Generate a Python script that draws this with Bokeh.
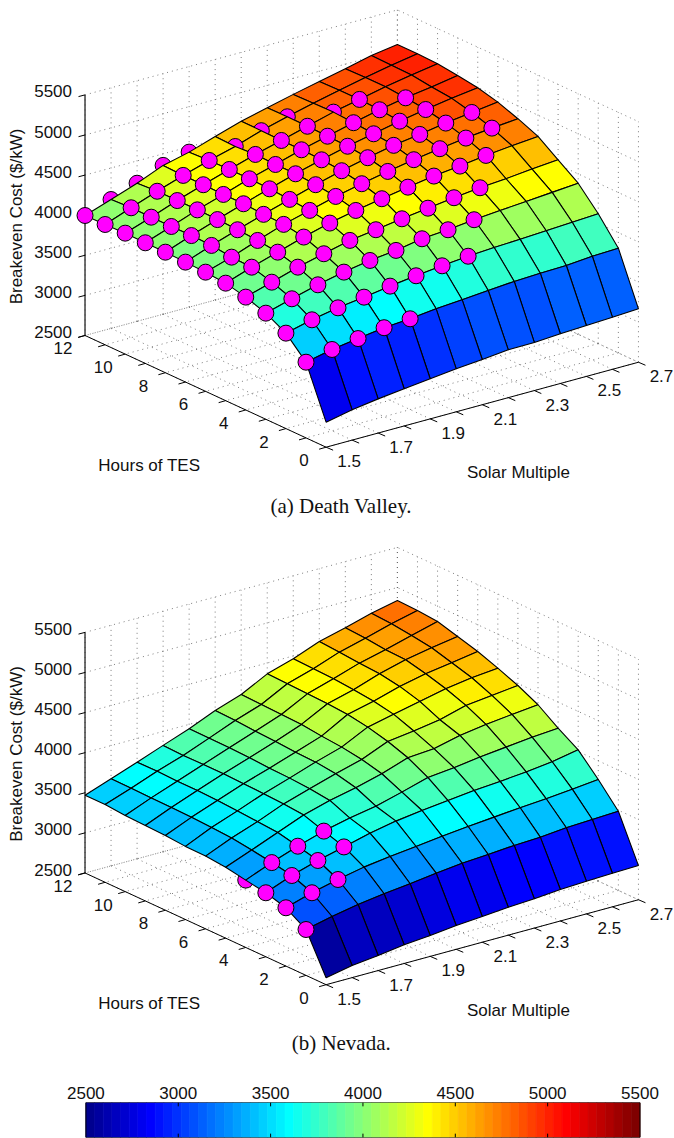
import numpy as np
from bokeh.core.properties import value
from bokeh.embed import file_html
from bokeh.layouts import column
from bokeh.models import FixedTicker, LinearAxis, Range1d
from bokeh.plotting import figure
from bokeh.resources import INLINE

TES_HOURS = list(range(13))
SOLAR_MULTIPLE = [1.5, 1.6, 1.7, 1.8, 1.9, 2.0, 2.1, 2.2, 2.3, 2.4, 2.5, 2.6, 2.7]
Z_TICKS = [2500, 3000, 3500, 4000, 4500, 5000, 5500]
TES_LABELS = [0, 2, 4, 6, 8, 10, 12]
SM_LABELS = ["1.5", "1.7", "1.9", "2.1", "2.3", "2.5", "2.7"]

# rows: hours of TES 0..12, columns: solar multiple 1.5..2.7
COST_DEATH_VALLEY = [
    [2812, 2878, 2926, 2964, 3000, 3036, 3064, 3096, 3100, 3120, 3135, 3150, 3166],
    [3444, 3514, 3562, 3609, 3632, 3668, 3692, 3720, 3744, 3759, 3767, 3794, 3806],
    [3690, 3768, 3829, 3874, 3923, 3964, 4000, 4031, 4052, 4065, 4084, 4102, 4119],
    [3823, 3914, 4000, 4070, 4127, 4164, 4221, 4245, 4282, 4308, 4333, 4358, 4384],
    [3907, 4005, 4104, 4183, 4261, 4306, 4354, 4398, 4440, 4476, 4500, 4533, 4560],
    [3965, 4076, 4175, 4275, 4361, 4430, 4488, 4544, 4594, 4630, 4675, 4707, 4735],
    [3986, 4085, 4205, 4317, 4403, 4489, 4559, 4624, 4682, 4731, 4775, 4811, 4840],
    [3995, 4115, 4222, 4326, 4424, 4519, 4605, 4679, 4745, 4793, 4846, 4890, 4931],
    [4003, 4122, 4233, 4342, 4440, 4539, 4625, 4706, 4773, 4842, 4899, 4950, 4993],
    [4004, 4119, 4238, 4342, 4449, 4539, 4634, 4715, 4795, 4868, 4929, 4975, 5030],
    [4008, 4119, 4238, 4347, 4449, 4548, 4634, 4723, 4811, 4881, 4950, 5010, 5060],
    [4000, 4120, 4238, 4347, 4445, 4531, 4640, 4725, 4805, 4880, 4950, 5015, 5069],
    [3996, 4107, 4222, 4356, 4433, 4540, 4642, 4721, 4800, 4873, 4943, 5020, 5069],
]
COST_NEVADA = [
    [2586, 2651, 2687, 2733, 2761, 2797, 2820, 2848, 2865, 2893, 2908, 2919, 2926],
    [3072, 3146, 3207, 3253, 3289, 3333, 3369, 3389, 3414, 3429, 3458, 3473, 3488],
    [3227, 3326, 3403, 3469, 3514, 3550, 3590, 3622, 3651, 3680, 3703, 3735, 3767],
    [3298, 3425, 3524, 3605, 3688, 3750, 3794, 3830, 3868, 3892, 3922, 3960, 4021],
    [3340, 3470, 3586, 3686, 3760, 3820, 3907, 4000, 4035, 4079, 4115, 4151, 4175],
    [3385, 3510, 3640, 3770, 3864, 3934, 4020, 4131, 4156, 4233, 4282, 4318, 4351],
    [3407, 3545, 3660, 3793, 3894, 3993, 4082, 4218, 4260, 4313, 4403, 4439, 4475],
    [3412, 3560, 3678, 3804, 3910, 4021, 4120, 4281, 4352, 4425, 4495, 4544, 4575],
    [3431, 3570, 3691, 3812, 3918, 4029, 4141, 4323, 4400, 4496, 4565, 4614, 4666],
    [3440, 3577, 3701, 3821, 3932, 4046, 4171, 4341, 4427, 4538, 4624, 4685, 4737],
    [3449, 3580, 3700, 3821, 3940, 4059, 4178, 4348, 4448, 4554, 4632, 4722, 4808],
    [3470, 3585, 3708, 3817, 3944, 4076, 4187, 4357, 4457, 4575, 4661, 4752, 4829],
    [3470, 3586, 3705, 3826, 3945, 4085, 4196, 4365, 4465, 4592, 4675, 4768, 4838],
]
# marked grid nodes as (hours, solar multiple index)
DV_FRONT = [(t, s) for t, last in [(1, 4), (2, 7), (3, 8), (4, 9), (5, 10), (6, 11), (7, 11),
                                   (8, 10), (9, 10)] for s in range(last + 1)] + \
           [(10, s) for s in [0, 1, 2, 3, 4, 5, 6, 7, 9]] + [(11, s) for s in range(5)] + [(12, 0)]
DV_BEHIND = [(12, 1), (12, 2), (12, 3), (12, 4)]
DV_PARTIAL = [(11, 5), (11, 6), (11, 7), (10, 8)]
NV_FRONT = [(1, 0), (2, 0), (2, 1), (2, 2), (3, 0), (3, 1), (3, 2), (3, 3), (4, 1), (4, 2), (4, 3)]
NV_BEHIND = [(4, 0)]

FONT = value("Liberation Sans")
SERIF = value("Liberation Serif")
LABEL = "17px"
MAGENTA = "#ff00ff"


def jet64():
    n = 16
    u = np.r_[np.arange(1, n + 1) / n, np.ones(n - 1), np.arange(n, 0, -1) / n]
    g = n // 2 + np.arange(1, len(u) + 1)
    r = g + n
    b = g - n
    keep_r, keep_b = r <= 64, b >= 1
    c = np.zeros((64, 3))
    c[g - 1, 1] = u
    c[r[keep_r] - 1, 0] = u[keep_r]
    c[b[keep_b] - 1, 2] = u[keep_b]
    return ["#%02x%02x%02x" % tuple(int(round(v * 255)) for v in row) for row in c]


JET = jet64()


def colour(z):
    return JET[int(np.clip((z - 2500) / 3000 * 64, 0, 63))]


def panel(height, top, floor_shift, cost, front, behind, partial, caption):
    p = figure(width=674, height=height, output_backend="svg", toolbar_location=None,
               x_range=Range1d(0, 674), y_range=Range1d(top + height, top),
               x_axis_location=None, y_axis_location=None, min_border=0)
    p.grid.visible = False
    p.outline_line_color = None
    p.background_fill_color = "white"
    p.border_fill_color = "white"
    z_grid = np.array(cost, float)

    def px(t, si):
        return 325.6 - 20.09 * np.asarray(t, float) + 26.03 * np.asarray(si, float)

    def py(t, si, z=2500):
        return (446.7 + floor_shift - 9.31 * np.asarray(t, float) - 7.08 * np.asarray(si, float)
                - (np.asarray(z, float) - 2500) * 0.0802)

    dots = dict(line_color="#5a5a5a", line_width=0.8, line_dash="1 4")
    xs, ys = [], []
    for z in Z_TICKS:
        xs += [[px(12, 0), px(12, 12), px(0, 12)]]
        ys += [[py(12, 0, z), py(12, 12, z), py(0, 12, z)]]
    for si in range(13):
        xs += [[px(12, si), px(12, si)], [px(12, si), px(0, si)]]
        ys += [[py(12, si), py(12, si, 5500)], [py(12, si), py(0, si)]]
    for t in TES_HOURS:
        xs += [[px(t, 12), px(t, 12)], [px(t, 12), px(t, 0)]]
        ys += [[py(t, 12), py(t, 12, 5500)], [py(t, 12), py(t, 0)]]
    p.multi_line(xs, ys, **dots)

    # axes
    p.line([px(12, 0), px(12, 0)], [py(12, 0), py(12, 0, 5500)], line_color="#333333", line_width=1.4)
    p.line([px(12, 0), px(0, 0), px(0, 12)], [py(12, 0), py(0, 0), py(0, 12)],
           line_color="black", line_width=1)
    zy = py(12, 0, np.array(Z_TICKS))
    p.segment(px(12, 0), zy, px(12, 0) - 6.5, zy + 1.7, line_color="black", line_width=1)
    tt = np.array(TES_HOURS)
    p.segment(px(tt, 0), py(tt, 0), px(tt, 0) - 7, py(tt, 0) + 2, line_color="black", line_width=1)
    si = np.arange(13)
    p.segment(px(0, si), py(0, si), px(0, si) + 7, py(0, si) + 3, line_color="black", line_width=1)

    p.text(px(12, 0) - 13, zy - 3.4, text=[str(z) for z in Z_TICKS], text_font=FONT,
           text_font_size=LABEL, text_align="right", text_baseline="middle", text_color="#111111")
    tl = np.array(TES_LABELS)
    p.text(px(tl, 0) - 22, py(tl, 0) + 13, text=[str(v) for v in TES_LABELS], text_font=FONT,
           text_font_size=LABEL, text_align="center", text_baseline="middle", text_color="#111111")
    sl = np.arange(0, 13, 2)
    p.text(px(0, sl) + 23, py(0, sl) + 14, text=SM_LABELS, text_font=FONT,
           text_font_size=LABEL, text_align="center", text_baseline="middle", text_color="#111111")
    p.text([148.8], [465 + floor_shift], text=["Hours of TES"], text_font=FONT, text_font_size=LABEL,
           text_align="center", text_baseline="middle", text_color="#111111")
    p.text([518], [472 + floor_shift], text=["Solar Multiple"], text_font=FONT, text_font_size=LABEL,
           text_align="center", text_baseline="middle", text_color="#111111")
    p.text([16.4], [216 + floor_shift], text=["Breakeven Cost ($/kW)"], text_font=FONT, text_font_size=LABEL,
           angle=np.pi / 2, text_align="center", text_baseline="middle", text_color="#111111")
    p.text([340.7], [505 + floor_shift], text=[caption], text_font=SERIF, text_font_size="21px",
           text_align="center", text_baseline="middle", text_color="#111111")

    def dots_at(nodes):
        if nodes:
            t = [n[0] for n in nodes]
            s = [n[1] for n in nodes]
            z = [z_grid[n[0], n[1]] for n in nodes]
            p.scatter(px(t, s), py(t, s, z), size=16, fill_color=MAGENTA, line_color="black", line_width=1)

    dots_at(behind)
    for j in range(11, -1, -1):
        cx, cy, fill = [], [], []
        for i in range(11, -1, -1):
            ti = [i, i + 1, i + 1, i]
            sj = [j, j, j + 1, j + 1]
            zz = [z_grid[a, b] for a, b in zip(ti, sj)]
            cx.append(px(ti, sj))
            cy.append(py(ti, sj, zz))
            fill.append(colour(z_grid[i, j]))
        p.patches(cx, cy, fill_color=fill, line_color="black", line_width=1.1)
        dots_at([n for n in partial if n[1] == j])
    dots_at(front)
    return p


top = panel(530, 0, 0, COST_DEATH_VALLEY, DV_FRONT, DV_BEHIND, DV_PARTIAL, "(a) Death Valley.")
mid = panel(545, 530, 537.5, COST_NEVADA, NV_FRONT, NV_BEHIND, [], "(b) Nevada.")

per_px = 3000 / 554.1
bar = figure(width=674, height=63, output_backend="svg", toolbar_location=None,
             x_range=Range1d(2500 - 85.4 * per_px, 5500 + 34.5 * per_px), y_range=Range1d(0, 1),
             x_axis_location=None, y_axis_location=None,
             min_border_left=0, min_border_right=0, min_border_top=27, min_border_bottom=1)
bar.grid.visible = False
bar.outline_line_color = None
edges = np.linspace(2500, 5500, 65)
bar.quad(left=edges[:-1], right=edges[1:], bottom=0, top=1, fill_color=JET, line_color=JET, line_width=0.7)
bar.quad(left=[2500], right=[5500], bottom=[0], top=[1], fill_color=None, line_color="black", line_width=1)
bar.segment(Z_TICKS[1:-1], 0, Z_TICKS[1:-1], 0.11, line_color="black", line_width=1)
bar.segment(Z_TICKS[1:-1], 0.89, Z_TICKS[1:-1], 1, line_color="black", line_width=1)
axis = LinearAxis(ticker=FixedTicker(ticks=Z_TICKS), major_tick_in=0, major_tick_out=0,
                  minor_tick_line_color=None, axis_line_color=None, major_label_standoff=4,
                  major_label_text_font="Liberation Sans", major_label_text_font_size=LABEL,
                  major_label_text_color="#111111", major_tick_line_color="black")
bar.add_layout(axis, "above")

open("out.html", "w").write(file_html(column(top, mid, bar, spacing=0), INLINE))
